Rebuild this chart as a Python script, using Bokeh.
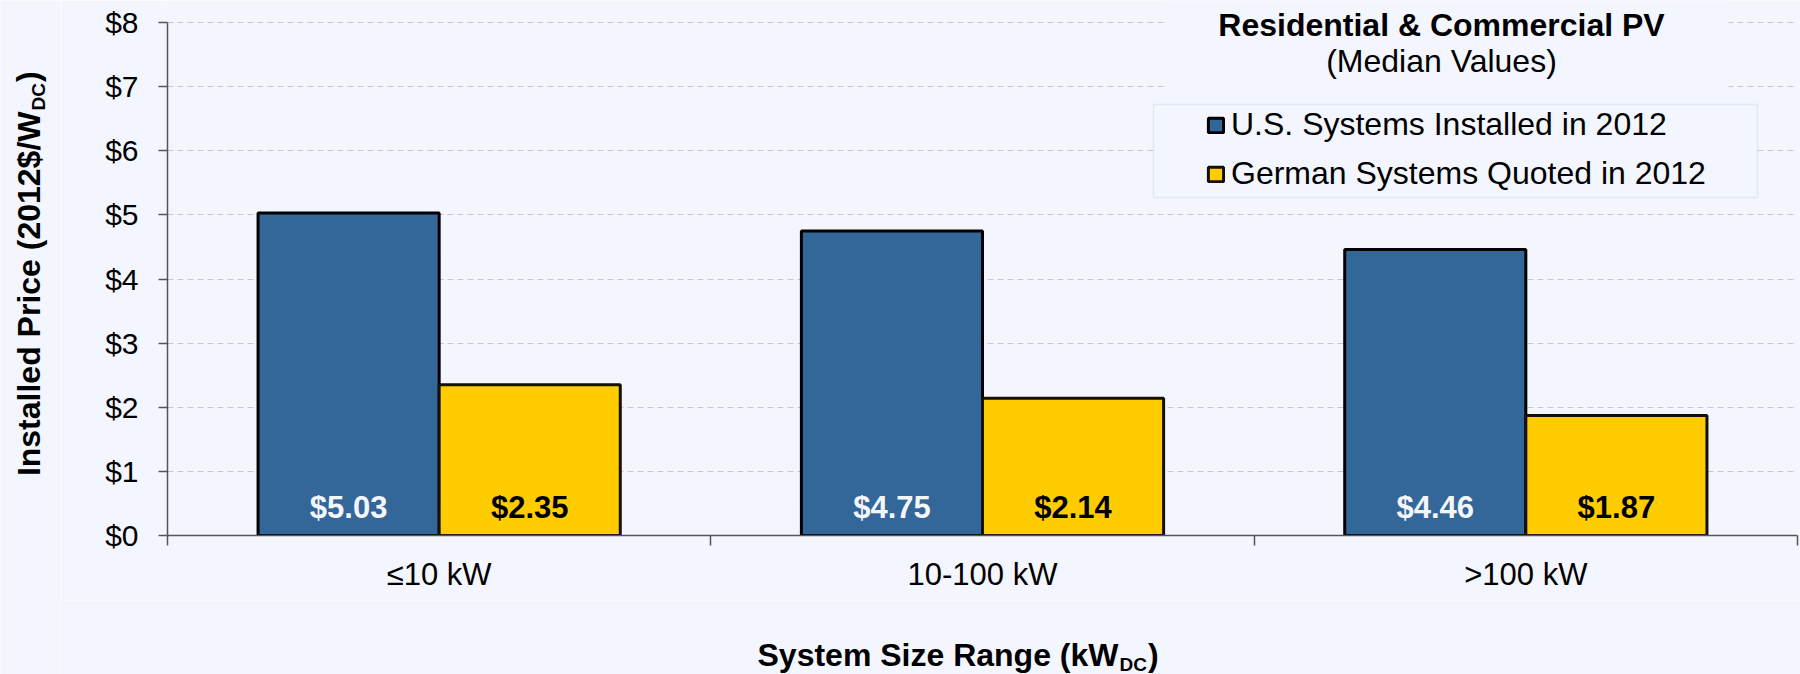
import math
from bokeh.plotting import figure
from bokeh.layouts import row, column
from bokeh.models import (Range1d, FixedTicker, PrintfTickFormatter, ColumnDataSource,
                          LabelSet, Legend, LegendItem, BoxAnnotation)
from bokeh.embed import file_html
from bokeh.resources import INLINE
from bokeh.core.properties import value

# ---------------- data ----------------
categories = ["≤10 kW", "10-100 kW", ">100 kW"]
us_2012 = [5.03, 4.75, 4.46]
de_2012 = [2.35, 2.14, 1.87]
series_names = ["U.S. Systems Installed in 2012", "German Systems Quoted in 2012"]
y_ticks = [0, 1, 2, 3, 4, 5, 6, 7, 8]
title_main = "Residential & Commercial PV"
title_sub = "(Median Values)"
x_title = "System Size Range (kW"
y_title = "Installed Price (2012$/W"
unit_sub = "DC"
close_paren = ")"

# ---------------- style ----------------
BG = "#f3f6fe"
BLUE = "#336699"
YELLOW = "#ffcc00"
AXIS = "#555555"
FONT = "Liberation Sans"

PAGE_W, PAGE_H = 1800, 674
YT_W = 60                 # strip holding the y-axis title
MAIN_H = 600              # main chart height; the x-axis title strip sits below
MAIN_W = PAGE_W - YT_W
FX0, FY0 = 167, 535       # page position of the frame's bottom-left corner
FX1 = 1797                # page x of the frame's right edge
Y_TOP_TICK = 22           # page y of the top ($8) gridline
LEFT = FX0 - YT_W
RIGHT = PAGE_W - FX1
TOP = 0
BOTTOM = MAIN_H - FY0
FW = FX1 - FX0
YMAX = y_ticks[-1]
NC = len(categories)
Y_UNIT = (FY0 - Y_TOP_TICK) / YMAX        # pixels per dollar
Y_END = (FY0 - TOP) / Y_UNIT              # range end so the frame reaches the top edge


def dx(px):
    return (px - FX0) / (FW / NC)


def dy(py):
    return (FY0 - py) / Y_UNIT


p = figure(width=MAIN_W, height=MAIN_H, output_backend="svg", toolbar_location=None,
           x_range=Range1d(0, NC), y_range=Range1d(0, Y_END),
           min_border_left=LEFT, min_border_right=RIGHT,
           min_border_top=TOP, min_border_bottom=BOTTOM,
           background_fill_color=BG, border_fill_color=BG, frame_align=False)
p.outline_line_color = None
p.title.visible = False

centers = [i + 0.5 for i in range(NC)]
bar_w = 1.0 / 3.0
src_us = ColumnDataSource(dict(x=[c - bar_w / 2 for c in centers], top=us_2012,
                               label=["$%.2f" % v for v in us_2012]))
src_de = ColumnDataSource(dict(x=[c + bar_w / 2 for c in centers], top=de_2012,
                               label=["$%.2f" % v for v in de_2012]))

r_us = p.vbar(x="x", top="top", bottom=0, width=bar_w, source=src_us,
              fill_color=BLUE, line_color="black", line_width=3)
r_de = p.vbar(x="x", top="top", bottom=0, width=bar_w, source=src_de,
              fill_color=YELLOW, line_color="#141008", line_width=3)

# ---------------- axes ----------------
xa = p.xaxis[0]
xa.ticker = FixedTicker(ticks=centers, minor_ticks=list(range(NC + 1)))
xa.major_label_overrides = {c: cat for c, cat in zip(centers, categories)}
xa.major_tick_line_color = None
xa.major_tick_out = 0
xa.major_tick_in = 0
xa.minor_tick_out = 10
xa.minor_tick_in = 0
xa.minor_tick_line_color = AXIS
xa.minor_tick_line_width = 1.5
xa.axis_line_color = AXIS
xa.axis_line_width = 1.5
xa.major_label_text_font = FONT
xa.major_label_text_font_size = "31px"
xa.major_label_text_color = "black"
xa.major_label_standoff = 11

ya = p.yaxis[0]
ya.ticker = FixedTicker(ticks=y_ticks)
ya.formatter = PrintfTickFormatter(format="$%d")
ya.bounds = (0, YMAX)
ya.major_tick_out = 9
ya.major_tick_in = 0
ya.major_tick_line_color = AXIS
ya.major_tick_line_width = 1.5
ya.minor_tick_line_color = None
ya.axis_line_color = AXIS
ya.axis_line_width = 1.5
ya.major_label_text_font = FONT
ya.major_label_text_font_size = "30px"
ya.major_label_text_color = "black"
ya.major_label_standoff = 20

p.xgrid.visible = False
p.ygrid.grid_line_color = "#c8c8c8"
p.ygrid.grid_line_dash = "6 4"
p.ygrid.grid_line_width = 1

# ---------------- value labels ----------------
for src, col in ((src_us, "#f4f6fa"), (src_de, "black")):
    p.add_layout(LabelSet(x="x", y=0, text="label", source=src, y_offset=18,
                          text_align="center", text_baseline="alphabetic",
                          text_font=value(FONT), text_font_size="31px",
                          text_font_style="bold", text_color=col))

# ---------------- title block & legend frame ----------------
p.add_layout(BoxAnnotation(left=dx(1165), right=dx(1728), bottom=dy(100), top=Y_END,
                           fill_color=BG, fill_alpha=1, line_color=None))
p.add_layout(BoxAnnotation(left=dx(1153), right=dx(1757), bottom=dy(197), top=dy(104),
                           fill_color=BG, fill_alpha=1, line_color="#c4c7ce", line_width=1.5))


def add_text(fig, x, y, text, size, bold=True, align="left", angle=0.0):
    src = ColumnDataSource(dict(x=[x], y=[y], t=[text]))
    fig.add_layout(LabelSet(x="x", y="y", text="t", source=src,
                            text_font=value(FONT), text_font_size="%gpx" % size,
                            text_font_style="bold" if bold else "normal",
                            text_align=align, text_baseline="alphabetic",
                            text_color="black", angle=angle))


add_text(p, dx(1441), dy(35), title_main, 32, bold=True, align="center")
add_text(p, dx(1441), dy(71), title_sub, 32, bold=False, align="center")

# ---------------- legend ----------------
legend = Legend(items=[LegendItem(label=series_names[0], renderers=[r_us]),
                       LegendItem(label=series_names[1], renderers=[r_de])],
                location=(1206 - FX0, FY0 - 192), orientation="vertical",
                glyph_width=19, glyph_height=18, label_standoff=6,
                label_height=34, spacing=12, padding=0, margin=0,
                border_line_alpha=0, background_fill_alpha=0,
                label_text_font=FONT, label_text_font_size="32px",
                label_text_color="black")
p.add_layout(legend)


# ---------------- axis-title strips ----------------
def blank(w, h, x0):
    f = figure(width=w, height=h, output_backend="svg", toolbar_location=None,
               x_range=Range1d(x0, x0 + w), y_range=Range1d(0, h),
               x_axis_location=None, y_axis_location=None,
               min_border_left=0, min_border_right=0, min_border_top=0, min_border_bottom=0,
               background_fill_color=BG, border_fill_color=BG, frame_align=False)
    f.outline_line_color = None
    f.title = None
    f.grid.visible = False
    return f


S = 32
SUB = 19
SUB_W = 1.444 * SUB      # Arial-bold advance of "DC"

xt = blank(MAIN_W, PAGE_H - MAIN_H, YT_W)
x_join = 1118            # page x where the main x title ends and the subscript starts
add_text(xt, x_join, PAGE_H - 665, x_title, S, align="right")
add_text(xt, x_join + 1, PAGE_H - 670, unit_sub, SUB)
add_text(xt, x_join + 2 + SUB_W, PAGE_H - 665, close_paren, S)

yt = blank(YT_W, PAGE_H, 0)
y_join = 111             # page y where the main y title ends and the subscript starts
rot = math.pi / 2
add_text(yt, 39, PAGE_H - y_join, y_title, S, align="right", angle=rot)
add_text(yt, 44, PAGE_H - (y_join - 1), unit_sub, SUB, angle=rot)
add_text(yt, 39, PAGE_H - (y_join - 2 - SUB_W), close_paren, S, angle=rot)

layout = row(yt, column(p, xt, spacing=0), spacing=0)

open("out.html", "w").write(file_html(layout, INLINE))
